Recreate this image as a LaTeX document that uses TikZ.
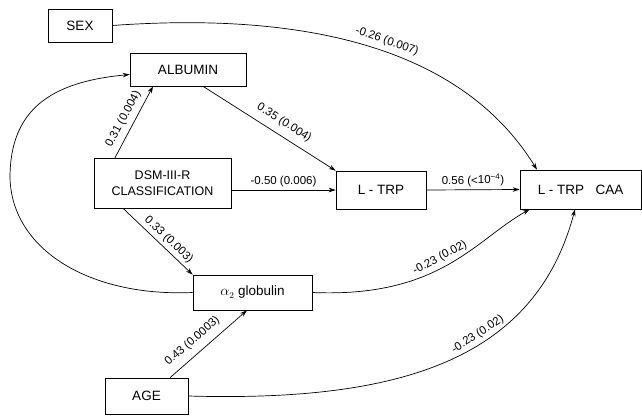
\documentclass[tikz,border=0pt]{standalone}
\usepackage{fontspec}
\setmainfont{Liberation Sans}
\usetikzlibrary{arrows.meta,calc}
\begin{document}
\begin{tikzpicture}[x=1pt,y=-1pt,
  box/.style={draw,line width=0.6pt,inner sep=0pt,align=center,font=\fontsize{13.5}{16}\selectfont},
  lab/.style={font=\fontsize{11.5}{13}\selectfont,inner sep=1pt,sloped},
  conn/.style={line width=0.7pt,-{Stealth[length=7pt,width=4.5pt]}}]
\useasboundingbox (0,0) rectangle (642,415);
\node[box,minimum width=64pt,minimum height=33pt] (sex) at (80,25.5) {SEX};
\node[box,minimum width=116pt,minimum height=33pt] (alb) at (188,69.5) {ALBUMIN};
\node[box,minimum width=137pt,minimum height=50pt,font=\fontsize{12.5}{16}\selectfont] (dsm) at (162.5,183) {DSM-III-R\\CLASSIFICATION};
\node[box,minimum width=90pt,minimum height=38pt] (ltrp) at (381,190) {L - TRP};
\node[box,minimum width=121pt,minimum height=39pt] (caa) at (580.5,189.5) {L - TRP\ \ \ CAA};
\node[box,minimum width=119pt,minimum height=35pt] (alpha) at (252.5,292.5) {$\alpha_2$ globulin};
\node[box,minimum width=83pt,minimum height=36pt] (age) at (146.5,396) {AGE};

\draw[conn] ($(dsm.north)+(-47.5,0)$) -- node[lab,above=4pt,pos=0.47]{0.31 (0.004)} ($(alb.south)+(-35,0)$);
\draw[conn] ($(alb.south)+(15,0)$) -- node[lab,above=6pt,pos=0.56]{0.35 (0.004)} (ltrp.north west);
\draw[conn] (dsm.east |- ltrp.west) -- node[lab,above=2pt]{-0.50 (0.006)} (ltrp.west);
\draw[conn] ($(dsm.south)+(-39.5,0)$) -- node[lab,above=2pt,pos=0.57]{0.33 (0.003)} (alpha.north west);
\draw[conn] ($(age.north)+(23.5,0)$) -- node[lab,above=6pt,pos=0.40]{0.43 (0.0003)} ($(alpha.south)+(-5.5,0)$);
\draw[conn] (ltrp.east) -- node[lab,above=2pt]{0.56 (<10\textsuperscript{−4})} (caa.west);

\draw[conn] (sex.east) .. controls (300,12) and (460,45) .. node[lab,above=4pt,pos=0.54]{-0.26 (0.007)} ($(caa.north)+(-43.5,0)$);
\draw[conn] (alpha.east) .. controls (440,298) and (475,240) .. node[lab,above=3pt,pos=0.48]{-0.23 (0.02)} ($(caa.south west)+(10,0)$);
\draw[conn] (age.east) .. controls (400,402) and (535,360) .. node[lab,above=2pt,pos=0.6]{-0.23 (0.02)} ($(caa.south)+(-5.5,0)$);
\draw[conn] (alpha.west) .. controls (90,297) and (12,250) .. (10,178) .. controls (10,110) and (50,82) .. ($(alb.west)+(0,5)$);
\end{tikzpicture}
\end{document}
